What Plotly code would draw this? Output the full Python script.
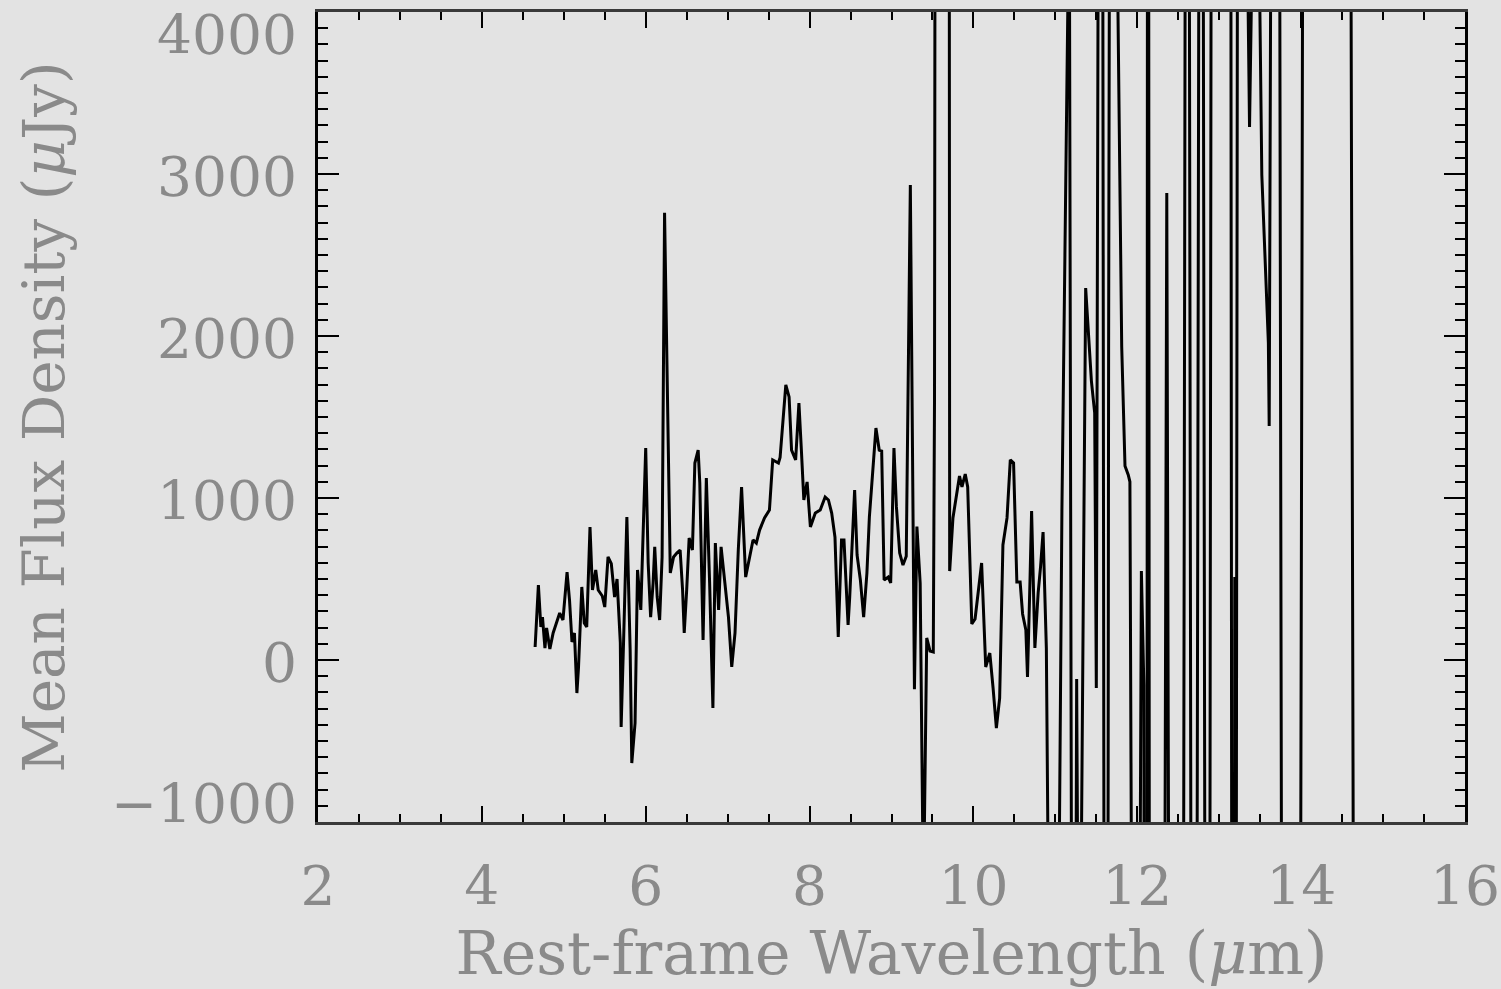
import plotly.graph_objects as go

# ---- data ----
wavelength_um = [
    4.65, 4.69, 4.72, 4.74, 4.77, 4.79, 4.83, 4.87, 4.91, 4.95, 4.99, 5.04, 5.07, 5.10, 5.13, 5.16,
    5.18, 5.22, 5.25, 5.28, 5.32, 5.35, 5.39, 5.42, 5.47, 5.50, 5.54, 5.58, 5.62, 5.65, 5.69, 5.70,
    5.73, 5.77, 5.81, 5.83, 5.87, 5.90, 5.94, 5.97, 6.00, 6.03, 6.06, 6.09, 6.11, 6.14, 6.17, 6.20,
    6.23, 6.30, 6.34, 6.38, 6.42, 6.45, 6.47, 6.50, 6.53, 6.57, 6.60, 6.64, 6.66, 6.70, 6.74, 6.78,
    6.82, 6.85, 6.89, 6.92, 6.96, 7.01, 7.05, 7.09, 7.13, 7.17, 7.22, 7.27, 7.31, 7.35, 7.39, 7.45,
    7.51, 7.55, 7.62, 7.64, 7.71, 7.75, 7.78, 7.83, 7.87, 7.90, 7.93, 7.97, 8.01, 8.07, 8.13, 8.19,
    8.23, 8.27, 8.31, 8.35, 8.39, 8.42, 8.47, 8.49, 8.55, 8.58, 8.62, 8.66, 8.70, 8.73, 8.76, 8.81,
    8.85, 8.88, 8.91, 8.96, 8.99, 9.03, 9.06, 9.10, 9.14, 9.18, 9.23, 9.28, 9.31, 9.35, 9.39, 9.43,
    9.47, 9.51, 9.525, 9.54, 9.70, 9.71, 9.75, 9.83, 9.86, 9.90, 9.93, 9.98, 10.02, 10.05, 10.10,
    10.15, 10.20, 10.24, 10.28, 10.32, 10.36, 10.41, 10.45, 10.49, 10.53, 10.57, 10.60, 10.64,
    10.66, 10.69, 10.71, 10.75, 10.79, 10.82, 10.85, 10.89, 10.94, 11.02, 11.08, 11.17, 11.22,
    11.26, 11.29, 11.37, 11.44, 11.48, 11.50, 11.56, 11.62, 11.65, 11.66, 11.69, 11.72, 11.81,
    11.85, 11.89, 11.91, 11.98, 12.05, 12.08, 12.11, 12.13, 12.16, 12.28, 12.36, 12.44, 12.53,
    12.61, 12.69, 12.78, 12.86, 12.92, 13.13, 13.17, 13.19, 13.20, 13.24, 13.33, 13.37, 13.40,
    13.45, 13.52, 13.60, 13.61, 13.64, 13.71, 13.80, 13.95, 14.05, 14.57, 14.69,
]
mean_flux_ujy = [
    80, 463, 204, 265, 74, 198, 68, 167, 228, 290, 247, 543, 370, 111, 167, -204,
    -43, 451, 228, 204, 821, 432, 556, 432, 395, 327, 636, 595, 389, 500, 105, -414,
    117, 883, 62, -636, -389, 556, 309, 802, 1309, 599, 265, 475, 698, 389, 247, 636,
    2760, 537, 636, 660, 679, 432, 167, 432, 753, 679, 1216, 1296, 1093, 123, 1123, 475,
    -296, 722, 309, 698, 500, 265, -43, 167, 679, 1068, 512, 636, 741, 722, 802, 877,
    926, 1235, 1216, 1250, 1698, 1624, 1296, 1235, 1586, 1296, 988, 1099, 821, 907, 926, 1006,
    988, 907, 759, 142, 741, 741, 216, 389, 1049, 648, 494, 265, 537, 883, 1093, 1432,
    1296, 1290, 494, 512, 475, 1309, 945, 660, 586, 640, 2932, -180, 824, 475, -1500, 136,
    56, 50, 1605, 9000, 9000, 549, 877, 1136, 1068, 1148, 1068, 222, 253, 383, 599,
    -43, 43, -173, -420, -235, 710, 877, 1235, 1216, 481, 481, 284, 185,
    -105, 481, 920, 74, 414, 580, 790, 74, -3000, -3000, 920, 4800, -6800,
    -117, -3000, 2296, 1722, 1525, -173, 12000, -12000, 1932, 2475, 12000, 6000, 1932,
    1198, 1142, 1100, -8000, 549, -154, -12000, 12000, -12000, -12000, 2883, -12000, -12000,
    12000, -12000, 12000, -12000, 12000, 12000, -12000, 512, -5000, 12000, 5000, 3290, 5000,
    6000, 2994, 1957, 1444, 6000, 12000, -12000, -12000, 12000, 12000, -12000,
]

x_tick_values = [2, 4, 6, 8, 10, 12, 14, 16]
y_tick_values = [-1000, 0, 1000, 2000, 3000, 4000]
y_tick_labels = ["\u22121000", "0", "1000", "2000", "3000", "4000"]
# label anchoring / small vertical nudges of the y labels, as drawn in the reference (px)
y_label_anchor = ["middle", "middle", "middle", "middle", "middle", "top"]
y_label_nudge = [18, -3, -3, -3, -3, 10]

x_title = "Rest-frame Wavelength (<i>\u03bc</i>m)"
y_title = "Mean Flux Density (<i>\u03bc</i>Jy)"

BG = "#e3e3e3"
TXT = "#8a8a8a"
FONT = "DejaVu Serif"

fig = go.Figure()
fig.add_trace(go.Scatter(
    x=wavelength_um, y=mean_flux_ujy, mode="lines",
    line=dict(color="black", width=3), showlegend=False, hoverinfo="skip",
))

fig.update_layout(
    width=1501, height=989,
    margin=dict(l=318, r=36, t=12, b=167, autoexpand=False),
    paper_bgcolor=BG, plot_bgcolor=BG,
    font=dict(family=FONT, color=TXT, size=55),
    showlegend=False,
)

fig.update_xaxes(
    range=[2, 16], tickvals=x_tick_values, ticktext=[str(v) for v in x_tick_values],
    showgrid=False, zeroline=False, automargin=False,
    showline=True, linecolor="#3a3a3a", linewidth=3, mirror="allticks",
    ticks="inside", ticklen=16, tickwidth=2, tickcolor="black",
    minor=dict(dtick=0.5, tick0=2, ticks="inside", ticklen=8, tickwidth=2, tickcolor="black", showgrid=False),
    tickfont=dict(family=FONT, color=TXT, size=55),
    ticklabelstandoff=14,
    title=dict(text=x_title, font=dict(family=FONT, color=TXT, size=60), standoff=4),
)

fig.update_yaxes(
    range=[-1000, 4000], tickvals=y_tick_values,
    showgrid=False, zeroline=False, automargin=False,
    showline=True, linecolor="black", linewidth=3, mirror="allticks",
    ticks="inside", ticklen=21, tickwidth=2, tickcolor="black",
    minor=dict(dtick=100, tick0=0, ticks="inside", ticklen=10, tickwidth=2, tickcolor="black", showgrid=False),
    showticklabels=False,
    title=dict(text=y_title, font=dict(family=FONT, color=TXT, size=58), standoff=232),
)

for v, lab, anc, nud in zip(y_tick_values, y_tick_labels, y_label_anchor, y_label_nudge):
    fig.add_annotation(
        x=0, xref="paper", y=v, yref="y", text=lab, showarrow=False,
        xanchor="right", yanchor=anc, xshift=-20, yshift=nud, borderpad=0,
        font=dict(family=FONT, color=TXT, size=55),
    )

fig.write_html("out.html")
